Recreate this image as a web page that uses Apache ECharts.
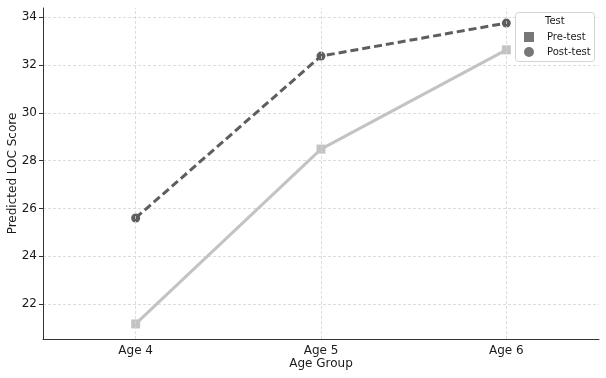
<!DOCTYPE html>
<html>
<head>
<meta charset="utf-8">
<script src="https://cdn.jsdelivr.net/npm/echarts@6/dist/echarts.min.js"></script>
<style>
  html, body { margin: 0; padding: 0; background: #fff; }
  #chart { width: 606px; height: 378px; }
</style>
</head>
<body>
<div id="chart"></div>
<script>
// data
const categories = ['Age 4', 'Age 5', 'Age 6']
const preTest = [21.17, 28.48, 32.63]
const postTest = [25.6, 32.37, 33.75]

const font = 'DejaVu Sans'
const txt = '#1a1a1a'
const myChart = echarts.init(document.getElementById('chart'))

myChart.setOption({
  animation: false,
  textStyle: { fontFamily: font },
  grid: { left: 43, right: 7, top: 8, bottom: 39, containLabel: false, outerBoundsMode: 'none' },
  // legend box + title
  graphic: [
    {
      type: 'rect',
      left: 515,
      top: 12,
      shape: { width: 79, height: 49, r: 3 },
      style: { fill: 'rgba(255,255,255,0.85)', stroke: '#d4d4d4', lineWidth: 1 },
      z: 10
    },
    {
      type: 'text',
      left: 545,
      top: 16,
      style: { text: 'Test', font: '10px ' + font, fill: txt },
      z: 11
    }
  ],
  legend: {
    orient: 'vertical',
    left: 524,
    top: 31,
    itemWidth: 10,
    itemHeight: 10,
    itemGap: 3,
    padding: 0,
    z: 12,
    textStyle: { fontSize: 10, color: txt, fontFamily: font, padding: [0, 0, 0, 8], lineHeight: 12 },
    data: [
      { name: 'Pre-test', icon: 'rect', itemStyle: { color: '#777777' } },
      { name: 'Post-test', icon: 'circle', itemStyle: { color: '#777777' } }
    ]
  },
  xAxis: {
    type: 'category',
    data: categories,
    boundaryGap: true,
    name: 'Age Group',
    nameLocation: 'middle',
    nameGap: 19,
    nameMoveOverlap: false,
    nameTextStyle: { fontSize: 12, color: txt },
    axisLine: { lineStyle: { color: '#333', width: 1 } },
    axisTick: { alignWithLabel: true, length: 4, lineStyle: { color: '#333' } },
    axisLabel: { fontSize: 12, color: txt, margin: 6 },
    splitLine: { show: false }
  },
  yAxis: {
    type: 'value',
    min: 20.54,
    max: 34.38,
    splitNumber: 7,
    name: 'Predicted LOC Score',
    nameLocation: 'middle',
    nameGap: 24,
    nameMoveOverlap: false,
    nameTextStyle: { fontSize: 12, color: txt },
    axisLine: { show: true, lineStyle: { color: '#333', width: 1 } },
    axisTick: { show: true, length: 4, lineStyle: { color: '#333' } },
    axisLabel: { fontSize: 12, color: txt, margin: 6, showMinLabel: false, showMaxLabel: false },
    splitLine: {
      show: true,
      showMinLine: false,
      showMaxLine: false,
      lineStyle: { color: '#d3d3d3', type: [3, 2], width: 0.8 }
    }
  },
  series: [
    {
      name: 'Pre-test',
      type: 'line',
      data: preTest,
      symbol: 'rect',
      symbolSize: 9,
      lineStyle: { color: '#c3c3c3', width: 3 },
      itemStyle: { color: '#c3c3c3' },
      // vertical grid lines at category centres
      markLine: {
        silent: true,
        symbol: 'none',
        label: { show: false },
        lineStyle: { color: '#d3d3d3', type: [3, 2], width: 0.8 },
        data: categories.map((c) => ({ xAxis: c }))
      },
      z: 3
    },
    {
      name: 'Post-test',
      type: 'line',
      data: postTest,
      symbol: 'circle',
      symbolSize: 9,
      lineStyle: { color: '#5e5e5e', width: 3, type: [8, 4] },
      itemStyle: { color: '#5e5e5e' },
      z: 4
    }
  ]
})
</script>
</body>
</html>
